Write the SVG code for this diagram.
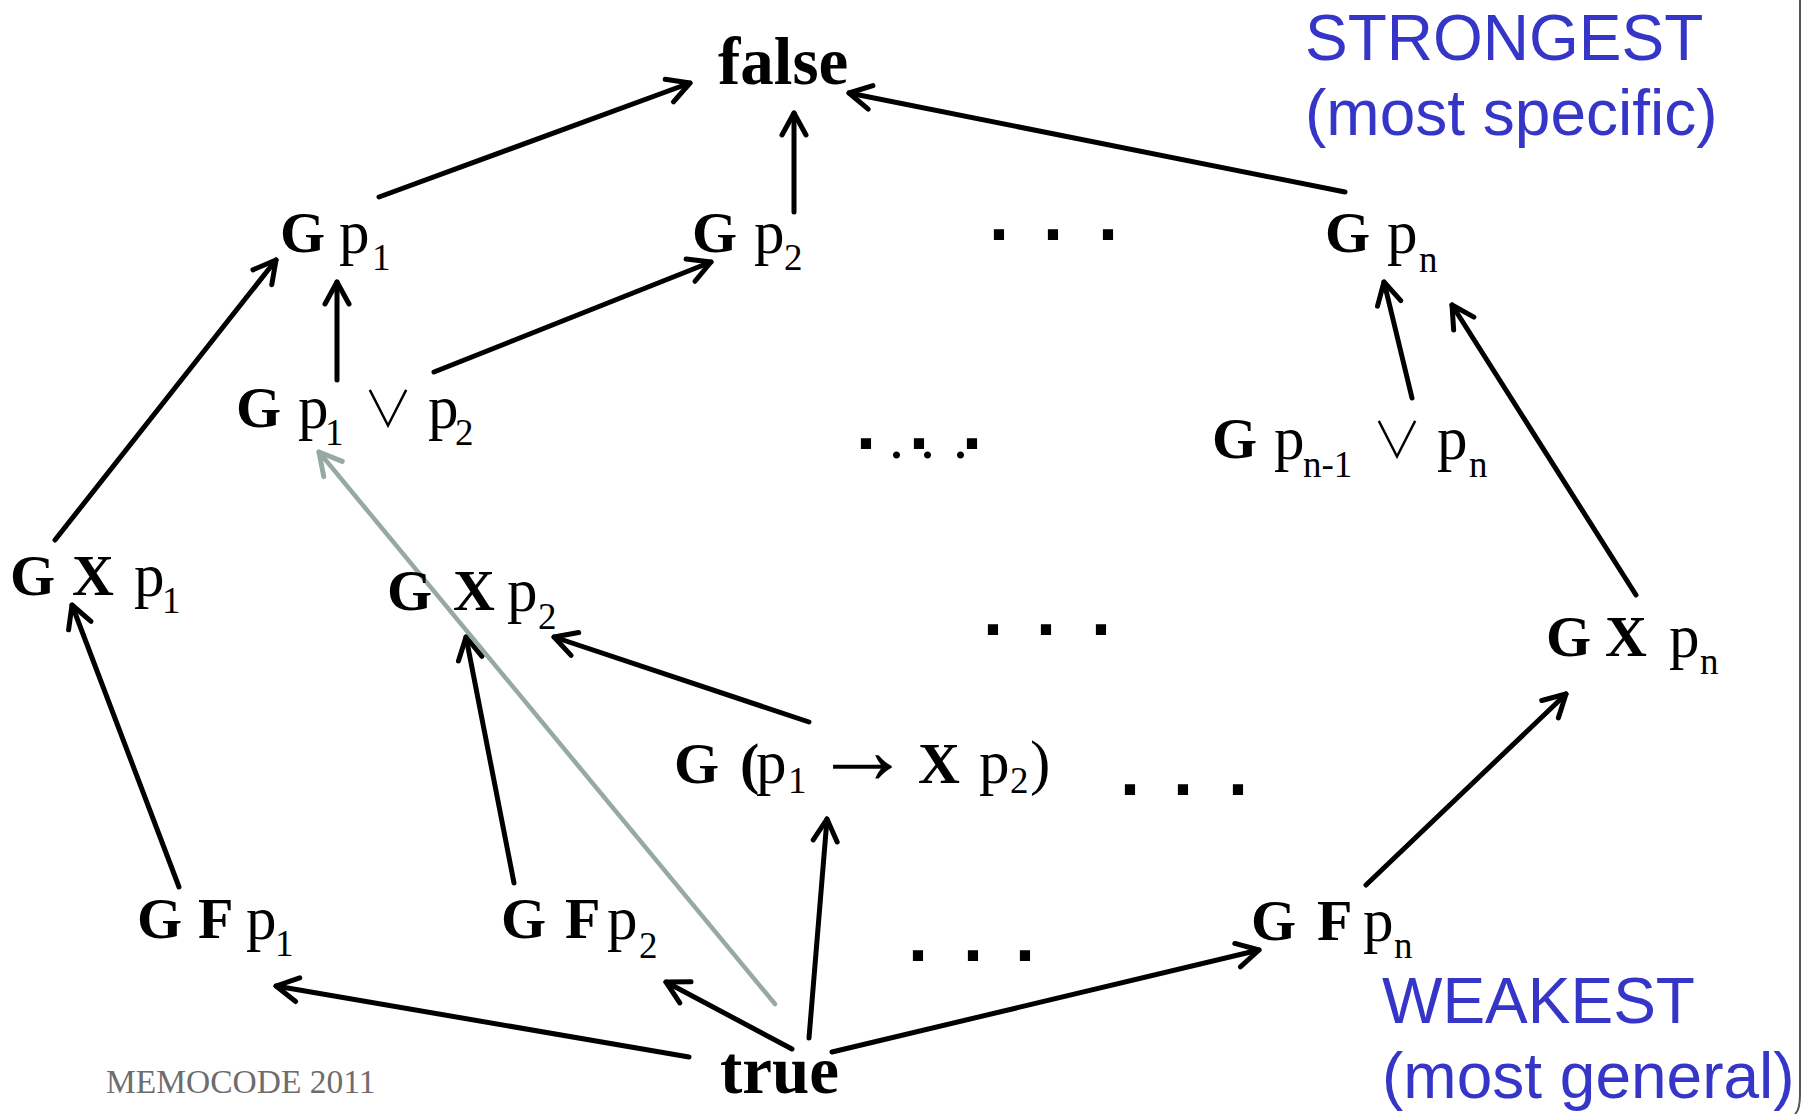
<svg xmlns="http://www.w3.org/2000/svg" width="1813" height="1114" viewBox="0 0 1813 1114">
<style>
.b{font-family:"Liberation Serif","Times New Roman",serif;font-weight:bold;font-size:58px;fill:#000}
.r{font-family:"Liberation Serif","Times New Roman",serif;font-size:61px;fill:#000}
.s{font-family:"Liberation Serif","Times New Roman",serif;font-size:37px;fill:#000}
.big{font-family:"Liberation Serif","Times New Roman",serif;font-weight:bold;font-size:67px;fill:#000}
.or{font-family:"Noto Sans CJK SC","DejaVu Sans",sans-serif;font-size:50px;font-weight:300;fill:#000}
.arr{font-family:"Liberation Serif","Times New Roman",serif;font-size:99px;fill:#000}
.dot{font-family:"Liberation Sans",Arial,sans-serif;font-weight:bold;font-size:72px;fill:#000}
.sdot{font-family:"Liberation Serif","Times New Roman",serif;font-size:60px;fill:#000}
.blue{font-family:"Liberation Sans",Arial,sans-serif;font-size:64px;fill:#3535c8}
.memo{font-family:"Liberation Serif","Times New Roman",serif;font-size:33.5px;fill:#6d6d6d}
.e{fill:none;stroke:#000;stroke-width:5;stroke-linecap:round;marker-end:url(#ah)}
.g{fill:none;stroke:#97a9a5;stroke-width:4.5;stroke-linecap:round;marker-end:url(#ahg)}
</style>
<defs>
<marker id="ah" markerUnits="userSpaceOnUse" markerWidth="60" markerHeight="60" viewBox="-30 -30 60 60" refX="0" refY="0" orient="auto">
<path d="M-22,-12 L0,0 L-22,12" fill="none" stroke="#000" stroke-width="5" stroke-linecap="round" stroke-linejoin="round"/>
</marker>
<marker id="ahg" markerUnits="userSpaceOnUse" markerWidth="60" markerHeight="60" viewBox="-30 -30 60 60" refX="0" refY="0" orient="auto">
<path d="M-22,-12 L0,0 L-22,12" fill="none" stroke="#97a9a5" stroke-width="5" stroke-linecap="round" stroke-linejoin="round"/>
</marker>
</defs>
<rect width="1813" height="1114" fill="#fff"/>
<path d="M1800,0 V1094 Q1800,1110 1795,1114" fill="none" stroke="#555" stroke-width="2"/>

<g id="connectors">
<line class="e" x1="379" y1="197" x2="690" y2="83"/>
<line class="e" x1="794" y1="212" x2="794" y2="113"/>
<line class="e" x1="1345" y1="192" x2="849" y2="93"/>
<line class="e" x1="337" y1="380" x2="337" y2="282"/>
<line class="e" x1="434" y1="372" x2="711" y2="262"/>
<line class="e" x1="55" y1="540" x2="276" y2="260"/>
<line class="e" x1="1412" y1="398" x2="1384" y2="282"/>
<line class="e" x1="1636" y1="595" x2="1452" y2="305"/>
<line class="e" x1="179" y1="887" x2="72" y2="605"/>
<line class="e" x1="514" y1="883" x2="466" y2="637"/>
<line class="e" x1="809" y1="722" x2="554" y2="637"/>
<line class="e" x1="1366" y1="885" x2="1566" y2="694"/>
<line class="e" x1="689" y1="1057" x2="276" y2="986"/>
<line class="e" x1="792" y1="1049" x2="666" y2="982"/>
<line class="e" x1="809" y1="1038" x2="827" y2="819"/>
<line class="e" x1="832" y1="1052" x2="1259" y2="950"/>
<line class="g" x1="775" y1="1004" x2="319" y2="452"/>
</g>

<g id="false"><text class="big" x="718" y="84">false</text></g>
<g id="true"><text class="big" x="720" y="1093">true</text></g>

<g id="Gp1"><text class="b" x="280" y="252">G</text><text class="r" x="339" y="253">p</text><text class="s" x="372" y="270">1</text></g>
<g id="Gp2"><text class="b" x="692" y="252">G</text><text class="r" x="754" y="253">p</text><text class="s" x="784" y="270">2</text></g>
<g id="Gpn"><text class="b" x="1325" y="252">G</text><text class="r" x="1387" y="253">p</text><text class="s" x="1419" y="272">n</text></g>

<g id="Gp1orp2"><text class="b" x="236" y="427">G</text><text class="r" x="298" y="428">p</text><text class="s" x="325" y="445">1</text><text class="or" x="363" y="427">∨</text><text class="r" x="428" y="428">p</text><text class="s" x="455" y="445">2</text></g>
<g id="Gpn1orpn"><text class="b" x="1212" y="458">G</text><text class="r" x="1274" y="459">p</text><text class="s" x="1303" y="477">n-1</text><text class="or" x="1372" y="458">∨</text><text class="r" x="1437" y="459">p</text><text class="s" x="1469" y="477">n</text></g>

<g id="GXp1"><text class="b" x="10" y="595">G</text><text class="b" x="72" y="595">X</text><text class="r" x="134" y="596">p</text><text class="s" x="162" y="613">1</text></g>
<g id="GXp2"><text class="b" x="387" y="610">G</text><text class="b" x="453" y="610">X</text><text class="r" x="507" y="611">p</text><text class="s" x="538" y="629">2</text></g>
<g id="GXpn"><text class="b" x="1546" y="656">G</text><text class="b" x="1605" y="656">X</text><text class="r" x="1669" y="657">p</text><text class="s" x="1700" y="674">n</text></g>

<g id="Gp1implXp2"><text class="b" x="674" y="783">G</text><text class="b" x="740" y="783">(</text><text class="r" x="756" y="783">p</text><text class="s" x="788" y="793">1</text><text class="arr" x="813" y="783">→</text><text class="b" x="918" y="783">X</text><text class="r" x="979" y="783">p</text><text class="s" x="1010" y="793">2</text><text class="r" x="1030" y="783">)</text></g>

<g id="GFp1"><text class="b" x="137" y="938">G</text><text class="b" x="198" y="938">F</text><text class="r" x="246" y="939">p</text><text class="s" x="275" y="956">1</text></g>
<g id="GFp2"><text class="b" x="501" y="938">G</text><text class="b" x="565" y="938">F</text><text class="r" x="607" y="939">p</text><text class="s" x="639" y="958">2</text></g>
<g id="GFpn"><text class="b" x="1251" y="940">G</text><text class="b" x="1317" y="940">F</text><text class="r" x="1363" y="941">p</text><text class="s" x="1394" y="958">n</text></g>

<g id="dots">
<text class="dot" x="989 1043 1098" y="240">...</text>
<text class="dot" x="856 909 962" y="449">...</text>
<text class="sdot" x="889 920 953" y="458">...</text>
<text class="dot" x="983 1036 1091" y="635">...</text>
<text class="dot" x="1120 1173 1228" y="795">...</text>
<text class="dot" x="908 963 1015" y="961">...</text>
</g>

<g id="labels">
<text class="blue" x="1305" y="60">STRONGEST</text>
<text class="blue" x="1305" y="135">(most specific)</text>
<text class="blue" x="1382" y="1023">WEAKEST</text>
<text class="blue" x="1382" y="1098">(most general)</text>
<text class="memo" x="106" y="1093">MEMOCODE 2011</text>
</g>
</svg>
